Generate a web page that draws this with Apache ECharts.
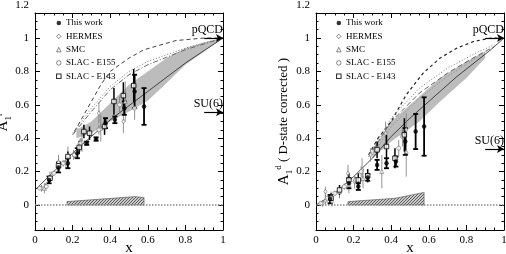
<!DOCTYPE html>
<html><head><meta charset="utf-8">
<script src="https://cdn.jsdelivr.net/npm/echarts@6/dist/echarts.min.js"></script>
<style>html,body{margin:0;padding:0;background:#fff}#c{width:506px;height:254px}</style>
</head><body><div id="c"></div><script>
// ---------- tick labels ----------
const yTickLabels = [0, 0.2, 0.4, 0.6, 0.8, 1, 1.2];
const yMajorTicks = [0, 0.2, 0.4, 0.6, 0.8, 1];
const xTicks = [0, 0.2, 0.4, 0.6, 0.8, 1];
const legendNames = ['This work', 'HERMES', 'SMC', 'SLAC - E155', 'SLAC - E143'];

// ---------- proton (left) : [x, A, error] ----------
const pThisWork = [[0.075,0.15,0.02],[0.125,0.225,0.03],[0.175,0.25,0.03],[0.225,0.31,0.03],[0.275,0.37,0.01],[0.325,0.395,0.01],[0.375,0.49,0.03],[0.425,0.51,0.02],[0.475,0.58,0.04],[0.53,0.68,0.1],[0.58,0.59,0.11]];
const pHermes = [[0.035,0.10,0.02],[0.055,0.11,0.02],[0.09,0.18,0.02],[0.125,0.25,0.03],[0.165,0.25,0.03],[0.205,0.30,0.03],[0.245,0.36,0.04],[0.34,0.55,0.06],[0.47,0.50,0.07]];
const pSMC = [[0.05,0.10,0.03],[0.08,0.17,0.03],[0.125,0.26,0.04],[0.175,0.30,0.05],[0.25,0.38,0.06],[0.35,0.46,0.08],[0.48,0.62,0.12]];
const pE155 = [[0.025,0.10,0.01],[0.06,0.11,0.01],[0.10,0.19,0.015],[0.15,0.25,0.02],[0.21,0.30,0.02],[0.24,0.37,0.03],[0.34,0.45,0.03],[0.45,0.60,0.05],[0.53,0.58,0.07]];
const pE143 = [[0.08,0.16,0.02],[0.125,0.235,0.03],[0.175,0.29,0.03],[0.235,0.345,0.04],[0.26,0.44,0.04],[0.29,0.43,0.04],[0.37,0.47,0.05],[0.42,0.62,0.08],[0.47,0.655,0.08],[0.525,0.715,0.1]];
const pBandUpper = [[0.22,0.45],[0.3,0.50],[0.4,0.61],[0.5,0.72],[0.6,0.80],[0.7,0.88],[0.8,0.94],[0.9,0.975],[1,1]];
const pBandLower = [[0.22,0.40],[0.3,0.43],[0.4,0.50],[0.5,0.56],[0.6,0.625],[0.7,0.73],[0.8,0.84],[0.9,0.92],[1,1]];
const pSolid = [[0,0.09],[0.1,0.2],[0.2,0.31],[0.4,0.51],[0.6,0.68],[0.8,0.85],[1,1]];
const pDashed = [[0.21,0.44],[0.25,0.52],[0.3,0.62],[0.35,0.72],[0.4,0.80],[0.5,0.88],[0.58,0.93],[0.75,0.985],[0.9,1.0],[1,1]];
const pDotted = [[0.2,0.43],[0.3,0.58],[0.4,0.71],[0.5,0.80],[0.6,0.86],[0.7,0.90],[0.8,0.94],[0.9,0.97],[1,1]];
const pDashDot = [[0.2,0.42],[0.3,0.56],[0.4,0.69],[0.5,0.78],[0.6,0.84],[0.7,0.885],[0.8,0.93],[0.9,0.965],[1,1]];
const pSyst = [[0.17,0.02],[0.53,0.05],[0.58,0.045]];
const pSU6 = 0.556;

// ---------- deuteron (right) ----------
const dThisWork = [[0.075,0.035,0.025],[0.175,0.13,0.03],[0.225,0.11,0.02],[0.275,0.165,0.02],[0.325,0.24,0.03],[0.375,0.25,0.03],[0.425,0.26,0.03],[0.475,0.38,0.08],[0.53,0.44,0.105],[0.575,0.47,0.175]];
const dHermes = [[0.035,0.01,0.02],[0.05,0.08,0.03],[0.085,0.02,0.03],[0.125,0.08,0.03],[0.17,0.19,0.05],[0.205,0.14,0.04],[0.245,0.21,0.07],[0.29,0.30,0.04],[0.37,0.43,0.07],[0.48,0.45,0.1]];
const dSMC = [[0.05,0.03,0.03],[0.08,0.05,0.03],[0.125,0.08,0.04],[0.175,0.12,0.05],[0.25,0.16,0.06],[0.35,0.20,0.1],[0.48,0.32,0.15]];
const dE155 = [[0.025,0.01,0.01],[0.06,0.04,0.01],[0.10,0.07,0.015],[0.15,0.11,0.02],[0.21,0.15,0.02],[0.24,0.20,0.03],[0.33,0.34,0.03],[0.44,0.34,0.05],[0.46,0.41,0.06]];
const dE143 = [[0.08,0.04,0.03],[0.125,0.09,0.03],[0.175,0.15,0.04],[0.225,0.15,0.04],[0.275,0.175,0.04],[0.325,0.33,0.05],[0.375,0.35,0.07],[0.42,0.28,0.06],[0.47,0.42,0.1]];
const dBandUpper = [[0.3,0.33],[0.4,0.50],[0.55,0.65],[0.66,0.76],[0.8,0.86],[0.9,0.92]];
const dBandLower = [[0.3,0.28],[0.4,0.38],[0.55,0.50],[0.66,0.62],[0.8,0.76],[0.9,0.88]];
const dSolid = [[0,0],[0.1,0.07],[0.2,0.17],[0.3,0.28],[0.4,0.41],[0.5,0.52],[0.6,0.62],[0.75,0.77],[0.93,0.93],[1,1]];
const dDashed = [[0.28,0.30],[0.33,0.40],[0.4,0.50],[0.48,0.66],[0.57,0.79],[0.66,0.88],[0.75,0.94],[0.84,0.98],[0.93,1.0],[1,1.0]];
const dDotted = [[0.28,0.30],[0.4,0.52],[0.55,0.70],[0.7,0.82],[0.85,0.91],[0.95,0.96]];
const dDashMid = [[0.28,0.29],[0.4,0.50],[0.55,0.67],[0.7,0.79],[0.85,0.89],[0.95,0.95]];
const dDotLow = [[0.3,0.30],[0.4,0.47],[0.55,0.64],[0.7,0.77],[0.85,0.88],[0.95,0.95]];
const dSyst = [[0.17,0.02],[0.42,0.04],[0.575,0.075]];
const dSU6 = 0.336;

const zeroLine = [[0,0],[1,0]];
const arrowStart = 0.9, arrowEnd = 1, pQCD = 1;

// ---------- styling helpers ----------
const FONT = "'Liberation Serif','DejaVu Serif',serif";
const G = [{left:35,right:283,top:13,bottom:24,outerBoundsMode:'none'},{left:316,right:2,top:13,bottom:24,outerBoundsMode:'none'}];

function hatch(){
  const c=document.createElement('canvas');c.width=3;c.height=3;
  const g=c.getContext('2d');g.fillStyle='#c8c8c8';g.fillRect(0,0,3,3);
  g.strokeStyle='#444';g.lineWidth=0.8;g.beginPath();g.moveTo(0,3);g.lineTo(3,0);g.stroke();
  return {image:c,repeat:'repeat'};
}
const HATCH = hatch();

function poly(xi, yi, pts, style, z){
  return {type:'custom', xAxisIndex:xi, yAxisIndex:yi, z:z, silent:true, data:pts, encode:{x:0,y:1},
    renderItem:(params, api)=> params.dataIndex!==0 ? null :
      ({type:'polygon', shape:{points:pts.map(p=>api.coord(p))}, style:style})};
}
function errs(xi, yi, pts, color, w, cap){
  return {type:'custom', xAxisIndex:xi, yAxisIndex:yi, z:3, silent:true, data:pts, encode:{x:0,y:1},
    renderItem:(params, api)=>{
      const x=api.value(0), y=api.value(1), e=api.value(2);
      const lo=api.coord([x,y-e]), hi=api.coord([x,y+e]);
      const st={stroke:color,lineWidth:w};
      const ch=[{type:'line',shape:{x1:lo[0],y1:lo[1],x2:hi[0],y2:hi[1]},style:st}];
      if(cap){
        ch.push({type:'line',shape:{x1:lo[0]-cap,y1:lo[1],x2:lo[0]+cap,y2:lo[1]},style:st});
        ch.push({type:'line',shape:{x1:hi[0]-cap,y1:hi[1],x2:hi[0]+cap,y2:hi[1]},style:st});
      }
      return {type:'group',children:ch};
    }};
}
function curve(xi, yi, pts, color, type, w){
  return {type:'line', xAxisIndex:xi, yAxisIndex:yi, data:pts, showSymbol:false, silent:true, z:2,
    lineStyle:{color:color, width:w||1, type:type}};
}
const MK = {
  'This work':{symbol:'circle',symbolSize:4.5,itemStyle:{color:'#000'}},
  'HERMES':{symbol:'diamond',symbolSize:[3,5],itemStyle:{color:'#fff',borderColor:'#666',borderWidth:0.7}},
  'SMC':{symbol:'triangle',symbolSize:4,itemStyle:{color:'#fff',borderColor:'#666',borderWidth:0.7}},
  'SLAC - E155':{symbol:'circle',symbolSize:4,itemStyle:{color:'#fff',borderColor:'#666',borderWidth:0.7}},
  'SLAC - E143':{symbol:'rect',symbolSize:4.5,itemStyle:{color:'#fff',borderColor:'#000',borderWidth:1}}
};
function pts(xi, yi, name, data){
  return Object.assign({type:'scatter', name:name, xAxisIndex:xi, yAxisIndex:yi, z:4,
    data:data.map(d=>[d[0],d[1]])}, MK[name]);
}
function arrows(xi, yi, su6){
  const lbl = {show:true, formatter:'{b}', position:'insideEndTop', color:'#000', fontFamily:FONT, fontSize:12, distance:[0,2]};
  return {type:'line', xAxisIndex:xi, yAxisIndex:yi, data:zeroLine, showSymbol:false, silent:true, z:1,
    lineStyle:{color:'#888', width:1.5, type:[1.5,1.5]},
    markLine:{silent:true, symbol:['none','arrow'], symbolSize:[6,7], animation:false,
      lineStyle:{color:'#000', width:1.2, type:'solid'}, label:lbl,
      data:[
        [{name:'pQCD',coord:[arrowStart,pQCD]},{name:'pQCD',coord:[arrowEnd,pQCD]}],
        [{name:'SU(6)',coord:[arrowStart,su6]},{name:'SU(6)',coord:[arrowEnd,su6]}]
      ]}};
}
function panelSeries(xi, yi, d){
  const band = d.bandU.concat(d.bandL.slice().reverse());
  const syst = [[d.syst[0][0],0]].concat(d.syst, [[d.syst[d.syst.length-1][0],0]]);
  const s = [
    poly(xi, yi, band, {fill:'#bcbcbc'}, 1),
    poly(xi, yi, syst, {fill:HATCH, stroke:'#555', lineWidth:0.6}, 1),
    arrows(xi, yi, d.su6)
  ];
  d.curves.forEach(c=>s.push(curve(xi, yi, c[0], c[1], c[2], c[3])));
  s.push(errs(xi, yi, d.hermes, '#777', 0.8, 0));
  s.push(errs(xi, yi, d.smc, '#777', 0.8, 0));
  s.push(errs(xi, yi, d.e155, '#777', 0.8, 0));
  s.push(errs(xi, yi, d.e143, '#000', 1.5, 0));
  s.push(errs(xi, yi, d.tw, '#000', 1.8, 2.5));
  s.push(pts(xi, yi, 'HERMES', d.hermes));
  s.push(pts(xi, yi, 'SMC', d.smc));
  s.push(pts(xi, yi, 'SLAC - E155', d.e155));
  s.push(pts(xi, yi, 'SLAC - E143', d.e143));
  s.push(pts(xi, yi, 'This work', d.tw));
  return s;
}

// ---------- axes ----------
const axLine = {show:true, onZero:false, lineStyle:{color:'#000', width:1}};
function xAx(gi, pos, labels, name){
  return {type:'value', gridIndex:gi, position:pos, min:0, max:1, interval:0.2,
    axisLine:axLine, splitLine:{show:false},
    axisTick:{show:true, inside:true, length:5, lineStyle:{color:'#000'}},
    minorTick:{show:true, splitNumber:4, length:2.5, lineStyle:{color:'#000'}},
    axisLabel:{show:labels, color:'#000', fontFamily:FONT, fontSize:11, margin:5},
    name:name||'', nameLocation:'middle', nameGap:11, nameMoveOverlap:false,
    nameTextStyle:{color:'#000', fontFamily:FONT, fontSize:15}};
}
function yMinor(gi, pos, nameObj){
  return Object.assign({type:'value', gridIndex:gi, position:pos, min:-0.15, max:1.15, interval:0.05,
    axisLine:axLine, splitLine:{show:false},
    axisTick:{show:true, inside:true, length:2.5, lineStyle:{color:'#000'}},
    axisLabel:{show:false}}, nameObj||{});
}
function yMajor(gi, pos){
  return {type:'value', gridIndex:gi, position:pos, min:-0.15, max:1.15,
    axisLine:{show:false, onZero:false}, splitLine:{show:false},
    axisTick:{show:true, inside:true, length:5, customValues:yMajorTicks, lineStyle:{color:'#000'}},
    axisLabel:{show:false}};
}
function yLabels(gi){
  return {type:'value', gridIndex:gi, min:-0.15, max:1.2,
    axisLine:{show:false, onZero:false}, axisTick:{show:false}, splitLine:{show:false},
    axisLabel:{show:true, customValues:yTickLabels, color:'#000', fontFamily:FONT, fontSize:11, margin:6}};
}
const richY = {
  a:{fontFamily:FONT, fontSize:15, color:'#000', lineHeight:20},
  s:{fontFamily:FONT, fontSize:9, color:'#000', verticalAlign:'bottom', lineHeight:20},
  u:{fontFamily:FONT, fontSize:9, color:'#000', verticalAlign:'top', lineHeight:20},
  t:{fontFamily:FONT, fontSize:13, color:'#000', lineHeight:20}
};
const nameL = {name:'{a|A}{s|1}{u|p}', nameLocation:'middle', nameGap:22, nameMoveOverlap:false, nameTextStyle:{rich:richY}};
const nameR = {name:'{a|A}{s|1}{u|d}{t| ( D-state corrected )}', nameLocation:'middle', nameGap:22, nameMoveOverlap:false, nameTextStyle:{rich:richY}};

const labGrid = g=>Object.assign({}, g, {top:230-1.35*(217/1.3)});

const openIcon = c=>({color:'#fff', borderColor:c, borderWidth:0.8});
const legendData = [
  {name:'This work', icon:'circle', itemStyle:{color:'#000'}},
  {name:'HERMES', icon:'diamond', itemStyle:openIcon('#444')},
  {name:'SMC', icon:'triangle', itemStyle:openIcon('#444')},
  {name:'SLAC - E155', icon:'circle', itemStyle:openIcon('#444')},
  {name:'SLAC - E143', icon:'rect', itemStyle:{color:'#fff', borderColor:'#000', borderWidth:1.1}}];
function leg(left){
  return {orient:'vertical', left:left, top:13, itemWidth:4.5, itemHeight:4.5, itemGap:3.3,
    selectedMode:false, data:legendData,
    textStyle:{fontFamily:FONT, fontSize:9, color:'#000', lineHeight:10}};
}

const chart = echarts.init(document.getElementById('c'), null, {renderer:'canvas'});
chart.setOption({
  animation:false, backgroundColor:'#fff',
  grid:[G[0], G[1], labGrid(G[0]), labGrid(G[1])],
  legend:[leg(51), leg(331)],
  xAxis:[xAx(0,'bottom',true,'x'), xAx(0,'top',false), xAx(1,'bottom',true,'x'), xAx(1,'top',false),
    {type:'value', gridIndex:2, min:0, max:1, show:false}, {type:'value', gridIndex:3, min:0, max:1, show:false}],
  yAxis:[yMinor(0,'left',nameL), yMajor(0,'left'), yMinor(0,'right'), yMajor(0,'right'), yLabels(2),
    yMinor(1,'left',nameR), yMajor(1,'left'), yMinor(1,'right'), yMajor(1,'right'), yLabels(3)],
  series:[].concat(
    panelSeries(0, 0, {tw:pThisWork, hermes:pHermes, smc:pSMC, e155:pE155, e143:pE143,
      bandU:pBandUpper, bandL:pBandLower, syst:pSyst, su6:pSU6,
      curves:[[pSolid,'#222','solid',0.8],[pDashed,'#444',[4,3],1],[pDotted,'#777',[1,2],1],[pDashDot,'#666',[5,2,1,2],1]]}),
    panelSeries(2, 5, {tw:dThisWork, hermes:dHermes, smc:dSMC, e155:dE155, e143:dE143,
      bandU:dBandUpper, bandL:dBandLower, syst:dSyst, su6:dSU6,
      curves:[[dSolid,'#222','solid',0.8],[dDashed,'#222',[3,3],1.2],[dDotted,'#777',[1,2],1],[dDashMid,'#666',[5,3],1],[dDotLow,'#888',[1,2],1]]})
  )
});
</script></body></html>
